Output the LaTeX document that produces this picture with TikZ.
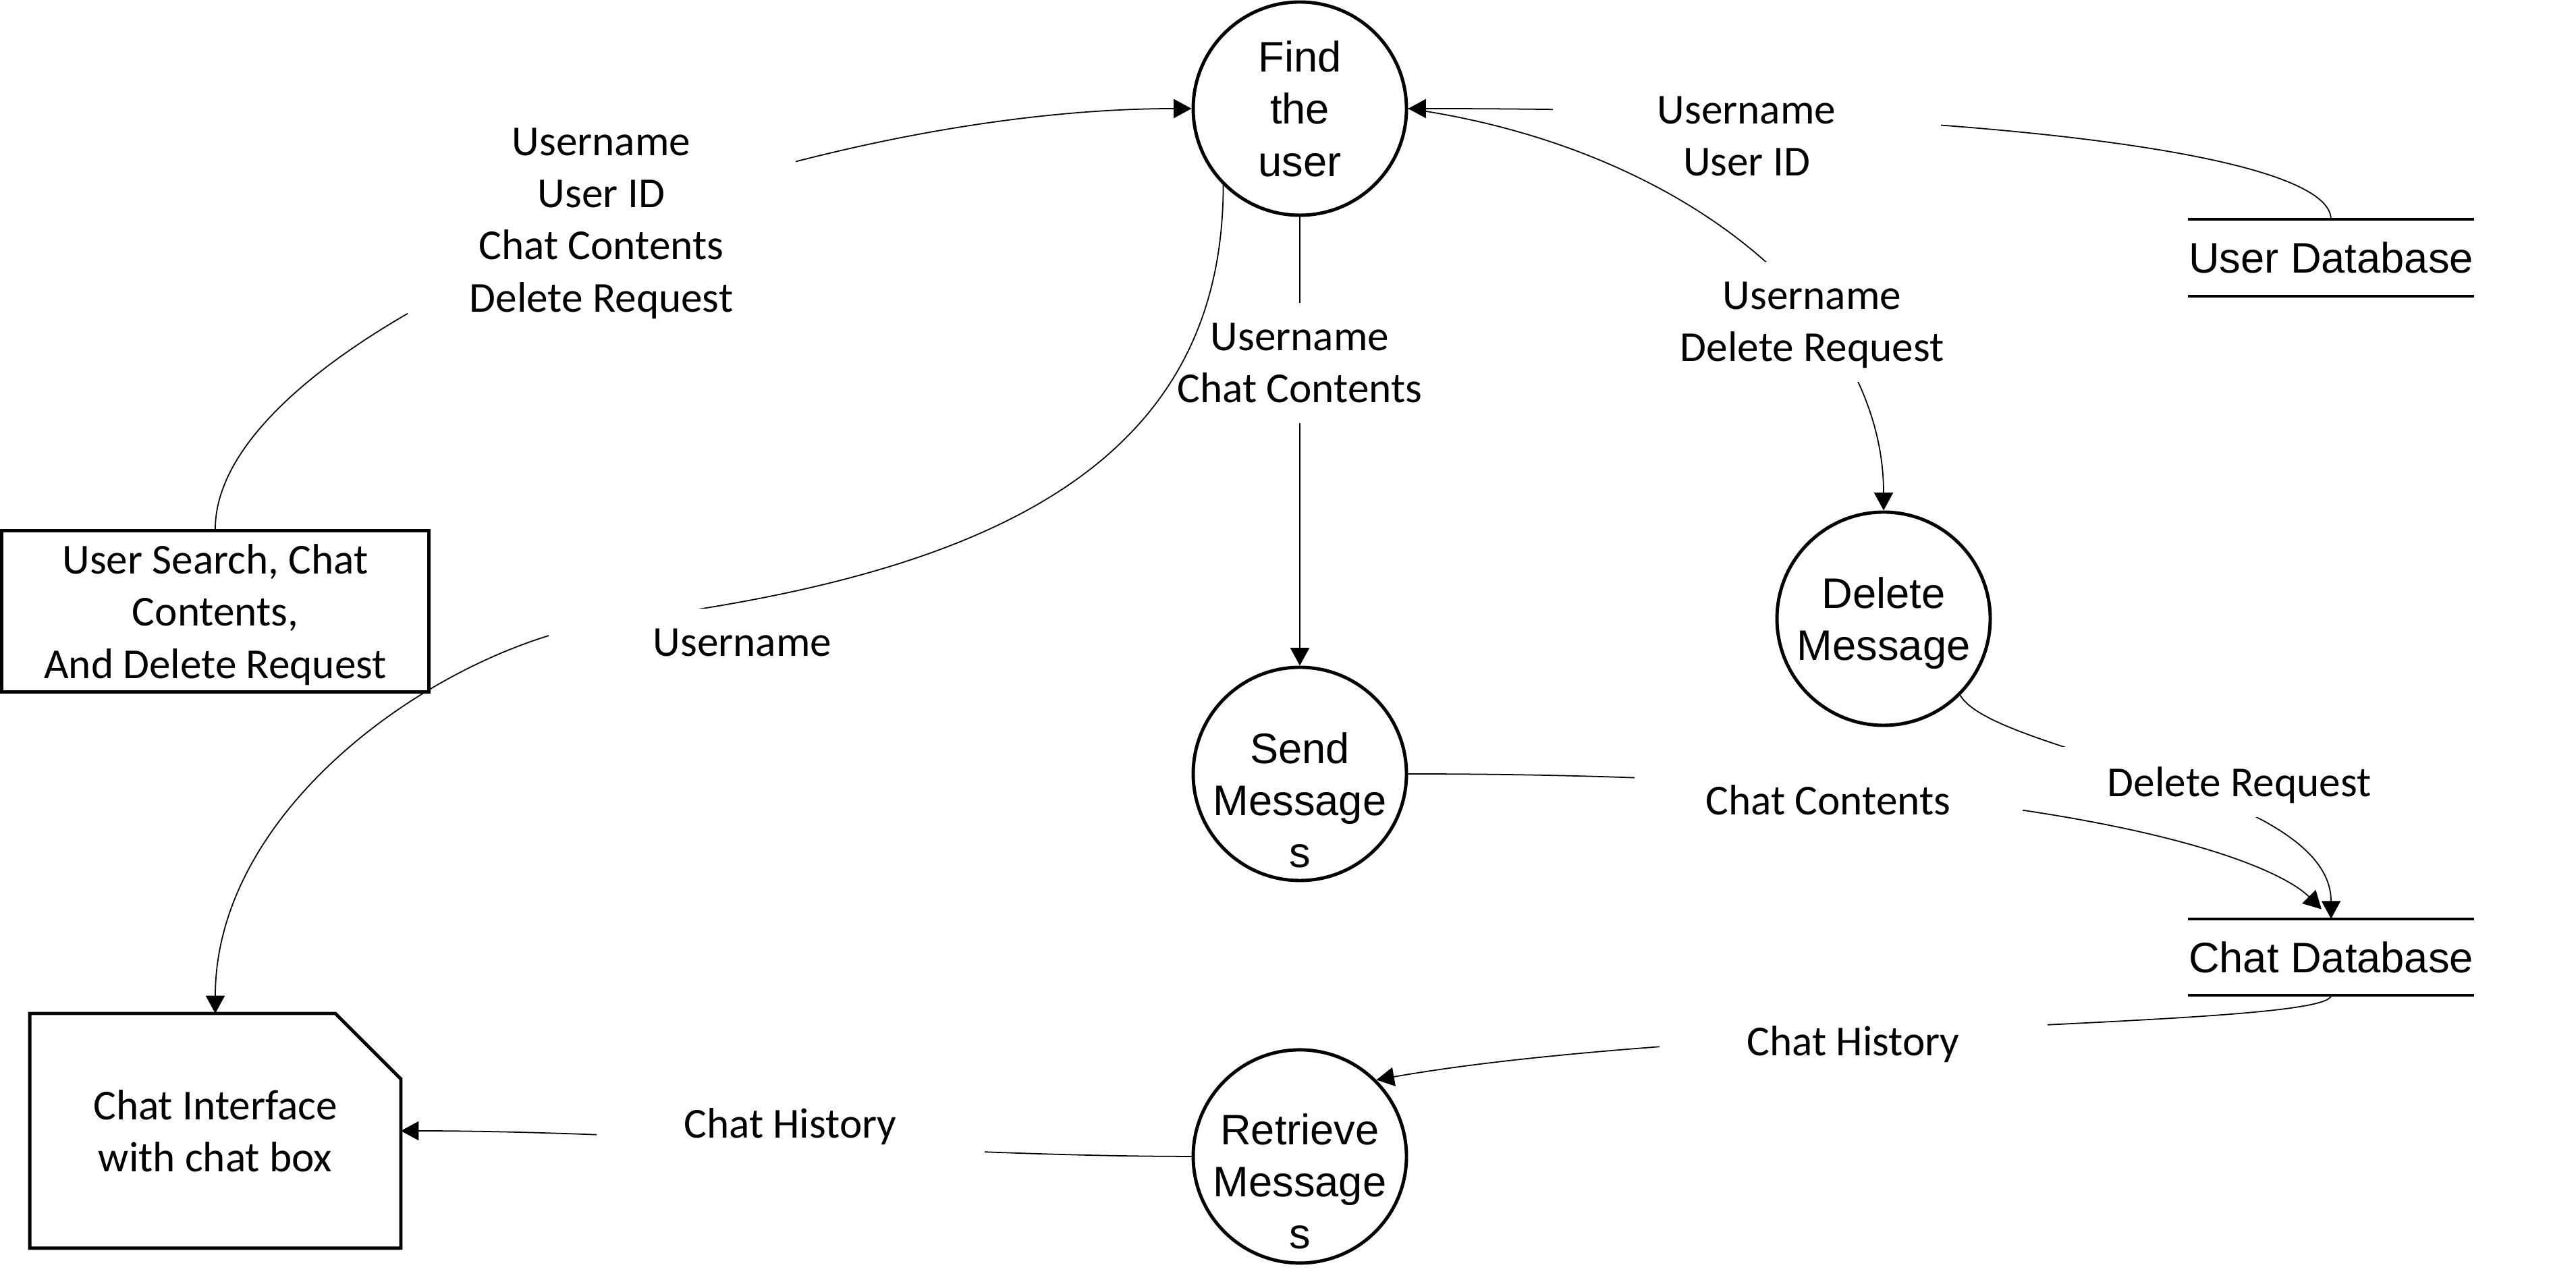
\documentclass[tikz,border=0pt]{standalone}
\usepackage{fontspec}
\setmainfont{Carlito}
\newfontfamily\arialfont{Liberation Sans}
\usetikzlibrary{arrows.meta, positioning}
\newcommand{\dfdsize}{\fontsize{18}{22}\selectfont}

\begin{document}
\begin{tikzpicture}[
    proc/.style={circle, draw, line width=1.4pt, minimum size=3.16cm, inner sep=1pt, align=center, text depth=0pt, font=\arialfont\dfdsize},
    proctext/.style={align=center, inner sep=0pt, font=\arialfont\dfdsize},
    entity/.style={rectangle, draw, line width=1.4pt, align=center, text depth=0pt, font=\dfdsize},
    store/.style={rectangle, inner xsep=0pt, minimum height=1.12cm, font=\arialfont\dfdsize},
    storeline/.style={line width=1.2pt},
    flow/.style={-{Triangle[length=7.5pt, width=8pt]}, line width=0.5pt},
    flowlabel/.style={fill=white, minimum width=5.75cm, inner ysep=0.3cm, align=center, text depth=0pt, font=\dfdsize}
]
\useasboundingbox (0,0) rectangle (38.17,19.00);

% Processes
\node[proc] (find) at (19.26,17.39) {Find\\the\\user};
\node[proc, label={[proctext, yshift=-0.39cm]center:{Send\\Message\\s}}] (send) at (19.26,7.53) {};
\node[proc, below=2.46cm of send, label={[proctext, yshift=-0.37cm]center:{Retrieve\\Message\\s}}] (retr) {};
\node[proc] (del) at (27.91,9.83) {Delete\\Message};

% External entities
\node[entity, minimum width=6.33cm, minimum height=2.39cm] (search) at (3.19,9.94) {User Search, Chat\\Contents,\\And Delete Request};
\node[entity, draw=none, minimum width=5.45cm, minimum height=3.43cm] (chatui) at (3.19,2.24) {Chat Interface\\with chat box};
\draw[line width=1.4pt] (chatui.south west) -- (chatui.north west) -- ([xshift=-0.97cm]chatui.north east)
    -- ([yshift=-0.97cm]chatui.north east) -- (chatui.south east) -- cycle;

% Data stores
\node[store] (userdb) at (34.54,15.18) {User Database};
\node[store, below=9.23cm of userdb] (chatdb) {Chat Database};
\foreach \s in {userdb, chatdb}
    \draw[storeline] (\s.north west) -- (\s.north east) (\s.south west) -- (\s.south east);

% Flows (each label box masks its line)
\draw[flow] (find) -- (send);
\node[flowlabel] (lblsend) at (19.26,13.62) {Username\\Chat Contents};

\coordinate (bend) at (9.13,9.80);
\draw[flow] (find.225) .. controls +(-90:4.14) and +(7:5.60) .. (bend)
    .. controls +(187:2.43) and +(90:3.16) .. (chatui.north);
\node[flowlabel] (lblname) at (11.00,9.48) {Username};

\draw[flow] (search.north) .. controls +(90:2.92) and +(180:6.09) .. (find.west);
\node[flowlabel] (lblsearch) at (8.91,15.74) {Username\\User ID\\Chat Contents\\Delete Request};

\draw[flow] (userdb.north) .. controls +(90:0.97) and +(0:8.52) .. (find.east);
\node[flowlabel] (lbluser) at (25.88,16.98) {Username\\User ID};

\draw[flow] (find.east) .. controls +(-8:4.14) and +(90:2.92) .. (del.north);
\node[flowlabel] (lbldel) at (26.85,14.23) {Username\\Delete Request};

\draw[flow] (del.-45) .. controls +(-60:1.0) and +(90:1.95) .. (chatdb.north);
\node[flowlabel] (lblreq) at (33.18,7.41) {Delete Request};

\draw[flow, shorten >=0.2cm] (send.east) .. controls +(0:9.74) and +(135:1.22) .. (chatdb.north);
\node[flowlabel] (lblchat) at (27.09,7.14) {Chat Contents};

\draw[flow] (chatdb.south) .. controls +(-90:0.49) and +(10:4.87) .. (retr.45);
\node[flowlabel] (lblhist) at (27.46,3.57) {Chat History};

\draw[flow] (retr.west) .. controls +(180:3.65) and +(0:3.65) .. (chatui.east);
\node[flowlabel] (lblshow) at (11.71,2.35) {Chat History};
\end{tikzpicture}
\end{document}
